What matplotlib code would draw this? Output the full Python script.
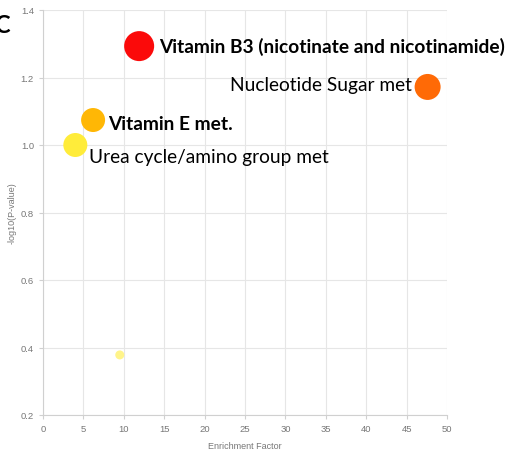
import matplotlib.pyplot as plt

names = ['Vitamin B3 (nicotinate and nicotinamide)', 'Nucleotide Sugar met',
         'Vitamin E met.', 'Urea cycle/amino group met', '']
enrichment = [11.9, 47.6, 6.2, 4.0, 9.5]
neglogp = [1.293, 1.172, 1.074, 1.0, 0.378]
colors = ['#fb0a0a', '#ff6a06', '#ffb705', '#ffec3a', '#fff48a']
radius_px = [15, 13, 12, 12, 4.5]

xticks = list(range(0, 55, 5))
yticks = [0.2, 0.4, 0.6, 0.8, 1.0, 1.2, 1.4]

fig = plt.figure(figsize=(5.08, 4.56), dpi=100)
ax = fig.add_axes([43 / 508, 1 - 416 / 456, 404 / 508, 405 / 456])

sizes = [(2 * r * 0.72) ** 2 for r in radius_px]
ax.scatter(enrichment, neglogp, s=sizes, c=colors, zorder=3, edgecolors='none')

ax.set_xlim(0, 50)
ax.set_ylim(0.2, 1.4)
ax.set_xticks(xticks)
ax.set_yticks(yticks)
ax.set_yticklabels([f'{v:.1f}' for v in yticks])
ax.grid(True, color='#e6e6e6', lw=0.8)
ax.set_axisbelow(True)
for s in ['top', 'right']:
    ax.spines[s].set_visible(False)
for s in ['left', 'bottom']:
    ax.spines[s].set_color('#d0d0d0')
ax.tick_params(colors='#d0d0d0', labelcolor='#777777', labelsize=6.8, length=3)
for t in ax.get_xticklabels() + ax.get_yticklabels():
    t.set_family('Liberation Sans')
ax.set_xlabel('Enrichment Factor', color='#777777', fontsize=6.5, labelpad=6,
              family='Liberation Sans')
ax.set_ylabel('-log10(P-value)', color='#777777', fontsize=6.5, labelpad=3,
              family='Liberation Sans')

lab_font = 'Lato'
fs = 13.8
ax.annotate(names[0], (enrichment[0], neglogp[0]), xytext=(20 * 0.72, 0),
            textcoords='offset points', va='center', ha='left',
            fontsize=fs, fontweight='bold', family=lab_font, annotation_clip=False)
ax.annotate(names[1], (enrichment[1], neglogp[1]), xytext=(-16 * 0.72, 2 * 0.72),
            textcoords='offset points', va='center', ha='right',
            fontsize=fs, family=lab_font)
ax.annotate(names[2], (enrichment[2], neglogp[2]), xytext=(15 * 0.72, -3 * 0.72),
            textcoords='offset points', va='center', ha='left',
            fontsize=fs, fontweight='bold', family=lab_font)
ax.annotate(names[3], (enrichment[3], neglogp[3]), xytext=(14 * 0.72, -12 * 0.72),
            textcoords='offset points', va='center', ha='left',
            fontsize=fs, family=lab_font)

# panel letter, cut at the left edge as in the source figure
fig.text(-0.012, 0.945, 'C', fontsize=17, fontweight='bold', family=lab_font, va='center')

fig.savefig('out.png', dpi=100)
